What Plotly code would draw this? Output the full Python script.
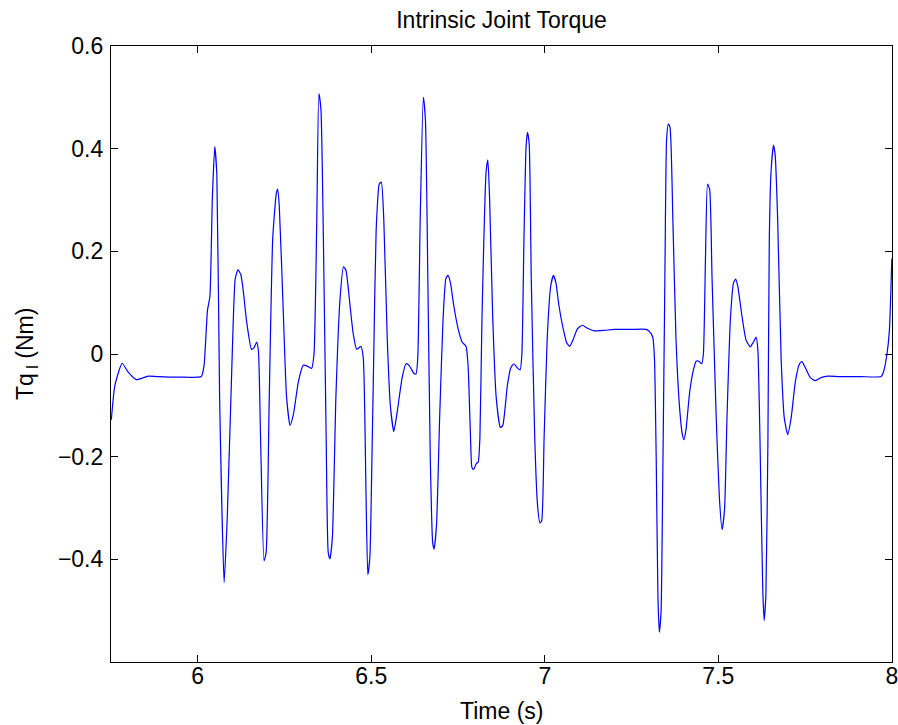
import plotly.graph_objects as go

# Time (s)
time_s = [
    5.751, 5.761, 5.782, 5.799, 5.823, 5.857, 5.885, 5.950, 6.010, 6.018,
    6.028, 6.035, 6.042, 6.049, 6.055, 6.063, 6.076, 6.085, 6.099, 6.108,
    6.116, 6.124, 6.131, 6.141, 6.155, 6.162, 6.170, 6.175, 6.181, 6.191,
    6.197, 6.206, 6.216, 6.226, 6.230, 6.235, 6.247, 6.256, 6.266, 6.276,
    6.290, 6.304, 6.314, 6.328, 6.335, 6.343, 6.349, 6.355, 6.362, 6.370,
    6.376, 6.381, 6.388, 6.398, 6.410, 6.420, 6.427, 6.439, 6.448, 6.458,
    6.470, 6.477, 6.485, 6.490, 6.496, 6.502, 6.507, 6.514, 6.523, 6.529,
    6.536, 6.546, 6.555, 6.565, 6.574, 6.589, 6.600, 6.610, 6.622, 6.629,
    6.634, 6.641, 6.650, 6.656, 6.663, 6.670, 6.677, 6.681, 6.688, 6.697,
    6.707, 6.715, 6.721, 6.728, 6.738, 6.750, 6.762, 6.773, 6.779, 6.786,
    6.790, 6.795, 6.803, 6.808, 6.813, 6.819, 6.831, 6.836, 6.841, 6.850,
    6.860, 6.872, 6.879, 6.892, 6.902, 6.911, 6.921, 6.929, 6.934, 6.940,
    6.946, 6.950, 6.955, 6.961, 6.971, 6.979, 6.986, 6.991, 6.998, 7.007,
    7.017, 7.025, 7.032, 7.041, 7.054, 7.063, 7.072, 7.081, 7.094, 7.108,
    7.123, 7.142, 7.171, 7.200, 7.250, 7.292, 7.301, 7.311, 7.316, 7.321,
    7.326, 7.330, 7.335, 7.340, 7.346, 7.351, 7.356, 7.361, 7.369, 7.378,
    7.388, 7.396, 7.401, 7.407, 7.417, 7.427, 7.436, 7.444, 7.452, 7.457,
    7.463, 7.469, 7.475, 7.482, 7.494, 7.503, 7.511, 7.518, 7.525, 7.535,
    7.544, 7.550, 7.556, 7.569, 7.580, 7.592, 7.601, 7.609, 7.614, 7.620,
    7.628, 7.632, 7.637, 7.643, 7.647, 7.652, 7.659, 7.664, 7.671, 7.681,
    7.690, 7.700, 7.710, 7.722, 7.734, 7.741, 7.751, 7.765, 7.780, 7.796,
    7.816, 7.849, 7.910, 7.969, 7.976, 7.986, 7.993, 8.000,
]

# Intrinsic joint torque (Nm)
torque_nm = [
    -0.128, -0.062, -0.018, -0.035, -0.050, -0.043, -0.044, -0.045, -0.044, -0.023,
    0.085, 0.112, 0.302, 0.404, 0.349, -0.085, -0.445, -0.318, -0.008, 0.147,
    0.164, 0.155, 0.124, 0.062, 0.009, 0.012, 0.023, 0.004, -0.163, -0.403,
    -0.387, -0.085, 0.225, 0.311, 0.321, 0.287, 0.070, -0.085, -0.139, -0.116,
    -0.054, -0.022, -0.023, -0.028, 0.000, 0.263, 0.507, 0.476, 0.225, -0.163,
    -0.387, -0.399, -0.356, -0.085, 0.108, 0.170, 0.163, 0.093, 0.039, 0.009,
    0.015, -0.008, -0.279, -0.430, -0.395, -0.200, -0.008, 0.240, 0.331, 0.335,
    0.263, 0.031, -0.101, -0.151, -0.116, -0.046, -0.019, -0.023, -0.037, -0.039,
    -0.008, 0.263, 0.500, 0.457, 0.147, -0.201, -0.368, -0.380, -0.333, -0.124,
    0.070, 0.147, 0.153, 0.139, 0.093, 0.050, 0.023, 0.015, -0.023, -0.163,
    -0.221, -0.225, -0.213, -0.211, -0.163, 0.070, 0.356, 0.378, 0.302, 0.070,
    -0.085, -0.143, -0.139, -0.062, -0.027, -0.019, -0.027, -0.031, 0.000, 0.225,
    0.403, 0.432, 0.410, 0.147, -0.163, -0.294, -0.329, -0.325, -0.163, 0.031,
    0.132, 0.153, 0.139, 0.093, 0.046, 0.022, 0.015, 0.027, 0.049, 0.056,
    0.050, 0.045, 0.046, 0.048, 0.048, 0.048, 0.044, 0.033, -0.008, -0.201,
    -0.472, -0.542, -0.503, -0.240, 0.147, 0.418, 0.448, 0.441, 0.263, 0.031,
    -0.101, -0.155, -0.167, -0.147, -0.077, -0.035, -0.014, -0.014, -0.019, 0.000,
    0.186, 0.331, 0.321, 0.147, -0.124, -0.279, -0.342, -0.302, -0.124, 0.070,
    0.139, 0.146, 0.132, 0.070, 0.027, 0.014, 0.023, 0.033, 0.008, -0.163,
    -0.457, -0.519, -0.472, -0.163, 0.225, 0.356, 0.407, 0.387, 0.263, -0.008,
    -0.124, -0.157, -0.124, -0.054, -0.019, -0.015, -0.027, -0.046, -0.052, -0.046,
    -0.043, -0.044, -0.044, -0.044, -0.035, 0.000, 0.046, 0.186,
]

x_ticks = [6, 6.5, 7, 7.5, 8]
x_tick_labels = ["6", "6.5", "7", "7.5", "8"]
y_ticks = [-0.4, -0.2, 0, 0.2, 0.4, 0.6]
y_tick_labels = ["\u22120.4", "\u22120.2", "0", "0.2", "0.4", "0.6"]

FONT = "Liberation Sans, Arial, Helvetica, sans-serif"
FS = 23
W, H = 898, 725
ML, MR, MT, MB = 111, 6, 46, 63
PW, PH = W - ML - MR, H - MT - MB

fig = go.Figure()
fig.add_trace(go.Scatter(
    x=time_s, y=torque_nm, mode="lines",
    line=dict(color="#0000ff", width=1.2, shape="spline", smoothing=0.5),
    showlegend=False, hoverinfo="x+y", cliponaxis=True,
))

axis_common = dict(
    showline=True, linecolor="black", linewidth=1.2, mirror="ticks",
    ticks="inside", ticklen=7, tickwidth=1, tickcolor="black",
    showgrid=False, zeroline=False, automargin=False,
    ticklabeloverflow="allow",
    tickfont=dict(family=FONT, size=FS, color="black"),
)

fig.update_layout(
    width=W, height=H,
    margin=dict(l=ML, r=MR, t=MT, b=MB, autoexpand=False),
    paper_bgcolor="white", plot_bgcolor="white",
    font=dict(family=FONT, size=FS, color="black"),
    title=dict(text="Intrinsic Joint Torque", x=0.5, xref="paper", xanchor="center",
               y=1 - 20 / H, yref="container", yanchor="middle",
               font=dict(family=FONT, size=FS, color="black")),
    xaxis=dict(range=[5.75, 8.0005], tickvals=x_ticks, ticktext=x_tick_labels,
               ticklabelstandoff=-7, **axis_common),
    yaxis=dict(range=[-0.6, 0.6], tickvals=y_ticks, ticktext=y_tick_labels,
               ticklabelstandoff=2, **axis_common),
    annotations=[
        dict(text="Time (s)", xref="paper", yref="paper",
             x=0.5, y=-(711 - 662) / PH, xanchor="center", yanchor="middle",
             showarrow=False, font=dict(family=FONT, size=FS, color="black")),
        dict(text="Tq<sub> l</sub> (Nm)", xref="paper", yref="paper",
             x=(26 - 111) / PW, y=0.5, xanchor="center", yanchor="middle",
             textangle=-90, showarrow=False,
             font=dict(family=FONT, size=FS, color="black")),
    ],
)

fig.write_html(
    "out.html",
    config={"displayModeBar": False},
    post_script="document.body.style.margin='0px';"
                "document.documentElement.style.overflow='hidden';"
                "document.body.style.overflow='hidden';",
)
